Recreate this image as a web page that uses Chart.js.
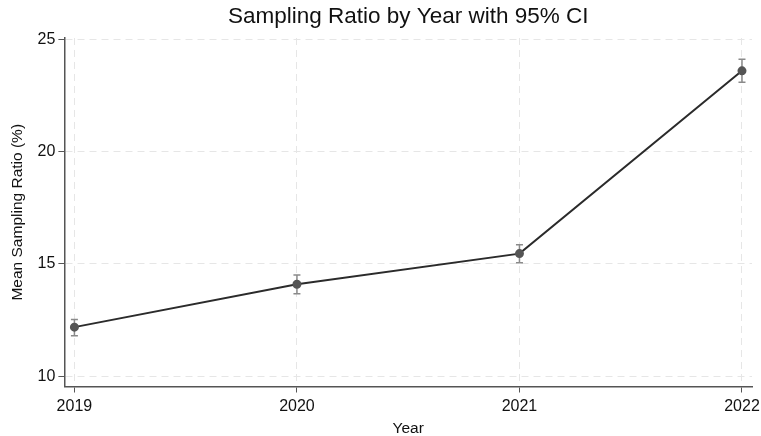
<!DOCTYPE html>
<html>
<head>
<meta charset="utf-8">
<script src="https://cdn.jsdelivr.net/npm/chart.js@4/dist/chart.umd.min.js"></script>
<style>
  html, body { margin: 0; padding: 0; background: #fff; }
  #wrap { width: 761px; height: 436px; }
</style>
</head>
<body>
<div id="wrap"><canvas id="c" width="761" height="436"></canvas></div>
<script>
// Mean sampling ratio per year with 95% confidence bounds
const years = [2019, 2020, 2021, 2022];
const meanRatio = [12.19, 14.10, 15.46, 23.59];
const ciLower = [11.81, 13.68, 15.05, 23.08];
const ciUpper = [12.53, 14.51, 15.86, 24.10];
const yTicks = [10, 15, 20, 25];

const FONT = "'Liberation Sans', Arial, sans-serif";

// Draws the vertical CI whiskers with caps, underneath the line and markers
const errorBars = {
  id: 'errorBars',
  beforeDatasetsDraw(chart) {
    const { ctx, scales: { x, y } } = chart;
    ctx.save();
    ctx.strokeStyle = '#8a8a8a';
    ctx.lineWidth = 1.5;
    years.forEach((yr, i) => {
      const px = x.getPixelForValue(yr);
      const top = y.getPixelForValue(ciUpper[i]);
      const bot = y.getPixelForValue(ciLower[i]);
      ctx.beginPath();
      ctx.moveTo(px, top); ctx.lineTo(px, bot);
      ctx.moveTo(px - 3.5, top); ctx.lineTo(px + 3.5, top);
      ctx.moveTo(px - 3.5, bot); ctx.lineTo(px + 3.5, bot);
      ctx.stroke();
    });
    ctx.restore();
  }
};

new Chart(document.getElementById('c'), {
  type: 'line',
  data: {
    datasets: [{
      data: years.map((yr, i) => ({ x: yr, y: meanRatio[i] })),
      borderColor: '#2b2b2b',
      borderWidth: 2,
      pointRadius: 3.5,
      pointBackgroundColor: '#555555',
      pointBorderColor: '#555555',
      tension: 0
    }]
  },
  options: {
    responsive: false,
    animation: false,
    devicePixelRatio: 1,
    layout: { padding: { left: 8, right: 9, top: 3, bottom: 0 } },
    plugins: {
      legend: { display: false },
      tooltip: { enabled: false },
      title: {
        display: true,
        fullSize: false,
        text: 'Sampling Ratio by Year with 95% CI',
        color: '#111',
        font: { family: FONT, size: 22.5, weight: 'normal' },
        padding: { top: 0, bottom: 8 }
      }
    },
    scales: {
      x: {
        type: 'linear',
        min: 2018.955,
        max: 2022.045,
        afterBuildTicks(scale) { scale.ticks = years.map(v => ({ value: v })); },
        // the last year label may overhang into the right margin
        afterFit(scale) { scale.paddingRight = 0; scale.paddingLeft = 0; },
        ticks: {
          color: '#111',
          font: { family: FONT, size: 16, lineHeight: 1.0 },
          padding: 6,
          maxRotation: 0,
          callback: v => String(v)
        },
        grid: {
          color: '#e6e6e6',
          lineWidth: 1,
          tickColor: '#555',
          tickLength: 6,
          tickBorderDash: []
        },
        border: { display: true, color: '#555', width: 1.5, dash: [7, 5] },
        title: {
          display: true,
          text: 'Year',
          color: '#111',
          font: { family: FONT, size: 15.5, lineHeight: 1.0 },
          padding: { top: 0, bottom: 0 }
        }
      },
      y: {
        type: 'linear',
        min: 9.55,
        max: 25.05,
        afterBuildTicks(scale) { scale.ticks = yTicks.map(v => ({ value: v })); },
        ticks: {
          color: '#111',
          font: { family: FONT, size: 16 },
          padding: 3
        },
        grid: {
          color: '#e6e6e6',
          lineWidth: 1,
          tickColor: '#555',
          tickLength: 6,
          tickBorderDash: []
        },
        border: { display: true, color: '#555', width: 1.5, dash: [7, 5] },
        title: {
          display: true,
          text: 'Mean Sampling Ratio (%)',
          color: '#111',
          font: { family: FONT, size: 15.5 },
          padding: { top: 0, bottom: 8 }
        }
      }
    }
  },
  plugins: [errorBars]
});
</script>
</body>
</html>
